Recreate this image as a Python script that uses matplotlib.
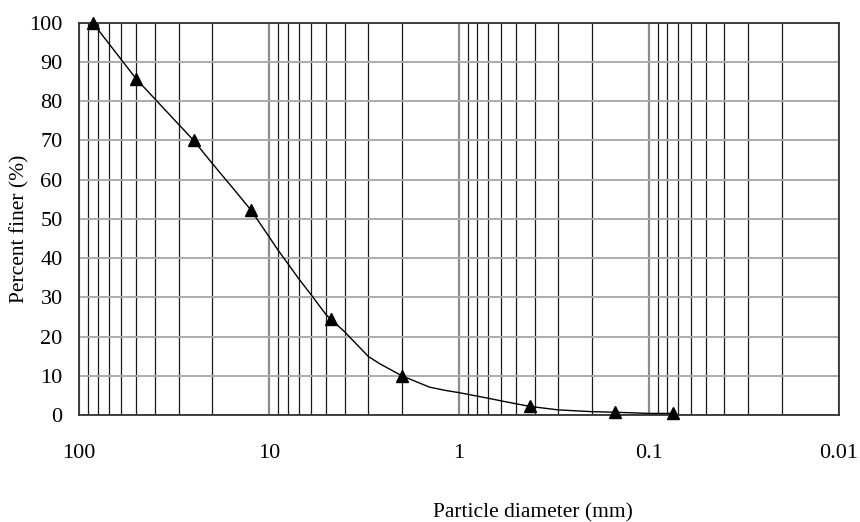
import numpy as np
import matplotlib
matplotlib.use("Agg")
import matplotlib.pyplot as plt
from matplotlib.ticker import LogLocator, FixedLocator, FixedFormatter, NullFormatter

# sieve points (marker positions)
d_mark = [85, 50, 25, 12.5, 4.75, 2.0, 0.425, 0.15, 0.075]
p_mark = [100, 85.6, 70, 52.3, 24.5, 10, 2.2, 0.7, 0.4]

# curve vertices
d_line = [85, 50, 25, 20, 15.5, 12.5, 10, 9, 8, 7, 6, 5, 4.75, 4, 3, 2.6, 2.0,
          1.43, 1.16, 1.0, 0.69, 0.6, 0.425, 0.3, 0.2, 0.15, 0.1, 0.075]
p_line = [100, 85.6, 70, 64.2, 57.8, 52.3, 45.4, 42.1, 38.7, 34.8, 30.6, 25.5, 24.5,
          21.2, 14.9, 13.0, 10, 7.1, 6.2, 5.7, 4.2, 3.6, 2.2, 1.3, 0.85, 0.7, 0.4, 0.4]

x_ticks = [100, 10, 1, 0.1, 0.01]
x_tick_labels = ["100", "10", "1", "0.1", "0.01"]
y_ticks = list(range(0, 101, 10))

plt.rcParams['font.family'] = ['Liberation Serif', 'DejaVu Serif']

fig = plt.figure(figsize=(8.6, 5.22), dpi=100)
ax = fig.add_axes([0.0922, 0.2050, 0.8830, 0.7515])

ax.plot(d_line, p_line, color='black', lw=1.0, zorder=3)
ax.plot(d_mark, p_mark, linestyle='none', marker='^', ms=9, color='black',
        zorder=4, clip_on=False)

ax.set_xscale('log')
ax.set_xlim(100, 0.01)
ax.set_ylim(0, 100)

ax.xaxis.set_major_locator(FixedLocator(x_ticks))
ax.xaxis.set_major_formatter(FixedFormatter(x_tick_labels))
ax.xaxis.set_minor_locator(LogLocator(base=10, subs=np.arange(2, 10)))
ax.xaxis.set_minor_formatter(NullFormatter())
ax.set_yticks(y_ticks)

ax.grid(which='major', axis='x', color='#8c8c8c', lw=1.6)
ax.grid(which='minor', axis='x', color='#1a1a1a', lw=0.9)
ax.grid(which='major', axis='y', color='#ababab', lw=1.4)
ax.set_axisbelow(True)

ax.tick_params(axis='both', which='both', length=0, labelsize=16)
ax.tick_params(axis='x', pad=21)
ax.tick_params(axis='y', pad=12)

for s in ax.spines.values():
    s.set_color('#333333')
    s.set_linewidth(1.3)

fig.text(0.0233, 0.561, 'Percent finer (%)', fontsize=15.5, rotation=90,
         ha='center', va='center')
fig.text(0.62, 0.017, 'Particle diameter (mm)', fontsize=15.5, ha='center', va='center')

fig.savefig('out.png', dpi=100)
